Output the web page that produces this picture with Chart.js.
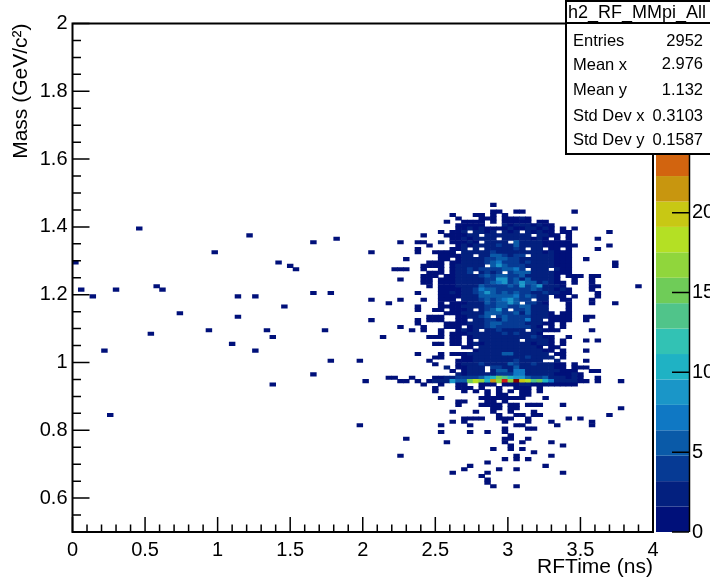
<!DOCTYPE html>
<html>
<head>
<meta charset="utf-8">
<title>h2_RF_MMpi_All</title>
<script src="https://cdn.jsdelivr.net/npm/chart.js@4"></script>
<style>
    html, body { margin: 0; padding: 0; background: #fff; }
    canvas { display: block; }
</style>
</head>
<body>
<canvas id="histChart" width="710" height="579"></canvas>
<script>
// Histogram binning
const rfBinWidth = 0.04;
const massBinWidth = 0.01;
const massAxisStart = 0.5;

// Dense part of the histogram, one entry per mass bin: first RF bin and the counts from there on
const rowMassBin = [96,95,94,93,92,91,90,89,88,87,86,85,84,83,82,81,80,79,78,77,76,75,74,73,72,71,70,69,68,67,66,65,64,63,62,61,60,59,58,57,56,55,54,53,52,51,50,49,48,47,46,45,44,43];
const rowFirstRfBin = [72,72,72,65,66,64,66,66,63,60,65,56,61,59,59,63,57,61,60,56,61,60,56,60,61,63,59,63,56,63,59,59,64,61,59,59,56,58,63,61,65,62,67,69,59,62,61,62,64,65,66,58,56,60];
const rowCounts = [
    [1],
    [],
    [1,1,0,0,1,1,0,0,0,0,0,0,0,0,1],
    [1,0,0,0,1,1,0,1,0,1],
    [1,0,0,0,1,1,1,0,1,1,1,2,1],
    [1,0,0,1,1,1,1,0,1,0,1,1,1,1,1,0,1,1],
    [1,1,1,1,1,0,0,0,2,1,2,2,2,1,2,1,1],
    [1,1,2,1,2,1,1,1,1,2,1,1,2,2,1,2,1,0,1,0,1],
    [1,0,1,1,2,0,2,2,1,2,0,2,1,2,0,2,1,2,1,1,0,1,1,0,0,0,0,0,0,1],
    [1,0,0,0,1,1,1,1,2,2,0,2,2,3,3,2,3,2,2,0,2,2,1,1,0,1],
    [1,1,2,1,2,2,2,3,0,2,3,3,2,2,1,2,1,0,1,0,1,0,0,0,0,1],
    [1,0,0,1,1,0,0,2,0,1,1,1,2,1,0,2,2,3,2,0,6,3,2,2,2,1,1,1,1,1],
    [1,0,0,0,0,1,2,1,2,2,3,2,4,3,2,5,3,2,2,3,1,1,1,1,1,1,0,0,0,0,0,1],
    [1,0,0,0,0,0,1,1,2,0,2,0,2,3,3,3,2,4,3,0,2,2,0,1,1,0,1,0,0,0,0,1],
    [1,0,0,1,1,1,1,0,2,2,2,3,2,4,3,3,3,3,2,2,2,2,1,2,1,1,1],
    [1,1,1,1,2,2,0,3,3,5,5,4,3,4,4,0,2,2,2,2,1,1,1],
    [1,0,0,0,0,0,1,1,0,1,2,2,2,3,4,4,5,5,4,4,3,3,2,2,2,3,1,1,1,0,0,1],
    [1,1,1,0,1,1,2,2,3,3,4,5,7,4,4,4,3,4,2,2,2,2,1,1,1,0,0,0,0,0,0,0,1],
    [1,1,1,1,0,1,2,2,2,3,3,0,5,8,5,4,4,4,3,3,2,2,2,1,1,1,0,0,0,0,0,0,0,1],
    [1,1,0,0,1,0,0,1,0,1,2,2,4,3,4,4,4,4,5,5,7,4,0,3,3,2,0,2,1,1],
    [1,1,1,0,1,2,2,4,0,3,4,3,4,0,4,5,5,5,3,2,2,2,1,1,1],
    [1,1,1,0,1,1,2,2,3,3,4,5,4,5,5,4,4,5,3,3,2,3,2,1,0,1,1,1,0,1,1],
    [1,0,0,0,1,1,0,1,1,1,2,2,3,2,3,4,4,8,8,4,5,3,5,3,3,3,2,1,0,0,1,0,0,1],
    [1,1,0,1,1,1,2,2,3,2,3,4,5,7,8,4,5,9,5,6,3,4,2,1,1,0,1,0,0,1],
    [1,0,1,1,1,2,2,3,2,5,4,4,4,4,5,4,9,4,6,8,3,2,2,1,0,0,0,0,1,1],
    [1,1,1,1,2,3,4,7,5,6,4,4,4,4,4,4,5,4,3,3,1,2,1,0,0,0,1],
    [1,0,0,0,1,1,2,1,2,3,4,5,8,5,4,5,4,5,4,4,3,3,4,2,2,1,1,0,0,0,0,1],
    [1,1,1,1,2,2,3,5,5,6,5,5,6,7,4,5,4,3,2,0,1,1,0,1,0,0,0,1],
    [1,0,0,0,1,0,0,1,1,1,0,2,2,3,4,5,4,5,7,9,5,4,4,0,3,2,0,0,1,1,0,0,0,1],
    [1,0,1,1,1,2,3,3,5,4,5,5,8,5,0,4,4,3,1,0,0,0,1,0,0,0,1,0,0,0,1],
    [1,0,0,0,1,1,1,1,2,3,2,3,4,4,5,5,4,4,5,5,3,3,2,0,0,0,1],
    [1,0,0,1,1,0,1,1,1,2,0,2,4,5,9,4,0,4,4,5,3,2,2,0,0,0,1],
    [1,1,1,2,2,2,3,5,5,5,4,4,5,3,5,3,2,2,1,0,1,1],
    [1,1,1,0,0,1,1,2,2,4,5,0,4,5,4,4,4,4,3,2,2,1,1,1,1,0,0,1,1],
    [1,0,1,1,1,0,0,1,1,0,2,2,4,4,3,5,4,4,4,7,2,2,0,1,1,1,1,0,0,1],
    [1,0,0,0,0,1,1,1,1,2,2,3,4,5,5,4,4,4,4,3,2,2,1,1,0,1],
    [1,0,0,0,1,0,0,0,1,1,1,0,1,2,2,4,5,4,4,4,4,4,4,3,1,0,1,0,1],
    [1,0,1,0,0,1,0,0,1,2,1,2,0,3,3,4,3,2,3,2,0,3,2,1,1,1,0,0,0,0,0,1],
    [1,0,1,1,1,2,2,2,3,3,3,4,3,4,3,3,3,1],
    [1,1,1,0,1,1,0,1,2,2,2,2,2,3,3,2,2,3,4,2,1,1,0,0,1],
    [1,1,0,1,0,2,2,3,2,3,3,2,0,3,2,2,3,1,0,1,0,0,0,1,0,1],
    [1,1,0,1,1,0,1,2,1,2,3,2,3,2,2,2,2,1,2,3,1,0,1],
    [1,1,0,2,2,2,2,3,3,2,3,2,2,1,0,1,1],
    [1,2,2,2,3,3,3,3,2,3,3,2,1,1,0,1,0,0,0,1],
    [1,0,0,0,1,0,1,1,1,2,2,3,2,3,3,6,6,3,3,3,3,2,2,0,1,1],
    [1,1,0,0,0,1,1,2,2,2,3,2,3,2,3,3,4,2,2,3,2,0,1],
    [1,0,0,0,0,1,1,1,2,2,3,3,3,3,2,4,2,3,3,2,0,0,2,0,0,0,0,1],
    [1,0,0,0,1,2,2,2,4,2,3,3,3,5,4,3,3,4,3,2,2,1,1,0,1],
    [2,0,1,1,2,2,2,0,4,4,3,3,6,3,3,3,2,3,2,1,1,0,1,1,1],
    [1,0,1,2,2,2,0,3,5,5,3,7,7,3,3,2,2,3,2,1,1,1,0,0,1,1],
    [2,1,2,2,3,2,3,4,4,4,7,7,3,3,3,2,2,1,1,1,2,1],
    [1,0,0,0,1,1,2,2,4,4,4,4,5,8,10,15,14,10,9,8,5,4,4,5,3,2,2,1,2,1,0,0,1],
    [1,1,0,1,0,1,2,2,3,9,5,6,15,18,17,11,22,17,29,16,31,20,18,13,15,11,7,3,3,2,2,1,1,0,1,0,0,0,1],
    [1,0,0,1,0,0,1,1,0,0,1,1,1,0,1,1,1,2,2,1,1,1,1,1,1,1,1]
];

// Scattered single entries, away from the dense part
const sparseRfBin = [11,30,24,0,35,37,38,1,7,14,15,3,28,31,36,18,28,23,33,13,34,27,5,31,34,6,41,45,51,55,41,44,51,54,51,43,53,44,49,41,54,55,50,49,97,
    62,66,67,68,70,73,76,77,78,80,62,67,69,71,73,75,77,78,80,71,73,74,77,78,63,70,71,72,73,74,75,76,77,81,66,67,71,72,74,66,70,71,72,73,75,76,78,79,80,84,72,73,75,76,94,
    65,69,72,75,79,73,76,77,79,80,92,67,68,69,70,73,74,75,78,85,87,65,67,74,78,82,89,63,68,76,77,83,89,74,78,79,63,68,71,74,75,57,74,75,78,64,74,77,82,75,84,72,75,77,79,56,76,82,74,76,78,71,68,81,67,73,76,65,71,84,70,71,71,72,76];
const sparseMassBin = [89,87,82,79,79,78,77,71,71,72,71,69,69,69,66,64,63,59,59,58,57,55,53,53,43,34,85,86,82,77,70,70,68,67,62,59,57,50,50,46,45,45,44,31,72,
    42,42,42,42,42,42,42,42,42,42,41,41,41,41,41,41,41,41,41,40,40,40,40,40,39,39,39,39,39,39,39,39,39,39,38,38,38,38,38,37,37,37,37,37,37,37,37,37,37,37,36,36,36,36,36,
    35,35,35,35,35,34,34,34,34,34,34,33,33,33,33,33,33,33,33,33,33,32,32,32,32,32,32,31,31,31,31,31,31,30,30,30,29,29,29,29,28,27,27,27,27,26,26,26,26,25,25,24,24,24,23,22,22,22,21,21,21,20,19,19,18,18,18,17,17,17,16,15,14,13,13];

// Palette, bottom to top of the colour bar
const paletteColors = ['#00107a','#03207f','#063a94','#0a5aa8','#0f78c4','#1a96c8','#1fb2c4','#32c2b4','#50c48a','#6fcc58','#90d63c','#b4e024','#c8c814','#c8960f','#d2640f','#d84a0c','#d83a0c','#d62c10','#c81c14','#800000'];

// Axis ticks
const rfTickValues = [0,0.5,1,1.5,2,2.5,3,3.5,4];
const massTickValues = [0.6,0.8,1,1.2,1.4,1.6,1.8,2];
const countTickValues = [0,5,10,15,20,25,30];
const countMax = 31.85;

// Stats box
const statsTitle = 'h2_RF_MMpi_All';
const statNames = ['Entries','Mean x','Mean y','Std Dev x','Std Dev y'];
const statValues = ['2952','2.976','1.132','0.3103','0.1587'];

function colorForCount(count) {
    return paletteColors[Math.min(paletteColors.length - 1, Math.floor(count / (countMax / paletteColors.length)))];
}

function makeCell(rfBin, massBin, count) {
    return {
        x: (rfBin + 0.5) * rfBinWidth,
        y: [massAxisStart + massBin * massBinWidth, massAxisStart + (massBin + 1) * massBinWidth],
        count
    };
}

function buildCells() {
    const cells = [];
    rowCounts.forEach((counts, r) => {
        counts.forEach((count, c) => {
            if (count > 0) {
                cells.push(makeCell(rowFirstRfBin[r] + c, rowMassBin[r], count));
            }
        });
    });
    sparseRfBin.forEach((rfBin, n) => cells.push(makeCell(rfBin, sparseMassBin[n], 1)));
    return cells;
}

// Ticks point inward from the frame, which the scales can't do themselves
const framePlugin = {
    id: 'frame',
    afterDatasetsDraw(chart) {
        const { ctx, chartArea: area, scales } = chart;
        const { x, y, z } = scales;
        ctx.save();

        // colour bar
        const barLeft = z.left + 3;
        const barRight = z.left + 36;
        const bandSize = countMax / paletteColors.length;
        paletteColors.forEach((color, n) => {
            const yTop = z.getPixelForValue((n + 1) * bandSize);
            const yBottom = z.getPixelForValue(n * bandSize);
            ctx.fillStyle = color;
            ctx.fillRect(barLeft, yTop, barRight - barLeft, yBottom - yTop);
        });

        ctx.strokeStyle = '#000';
        ctx.lineWidth = 1.5;
        ctx.beginPath();
        countTickValues.forEach(v => {
            const py = z.getPixelForValue(v);
            ctx.moveTo(barRight, py);
            ctx.lineTo(barRight - 17, py);
        });
        ctx.moveTo(barRight + 0.5, area.top);
        ctx.lineTo(barRight + 0.5, area.bottom);
        ctx.stroke();

        ctx.beginPath();
        for (let n = 0; n <= 40; n++) {
            const px = x.getPixelForValue(n * 0.1);
            ctx.moveTo(px, area.bottom);
            ctx.lineTo(px, area.bottom - (n % 5 === 0 ? 15 : 7.5));
        }
        for (let n = 0; n <= 30; n++) {
            const py = y.getPixelForValue(0.5 + n * 0.05);
            ctx.moveTo(area.left, py);
            ctx.lineTo(area.left + ((n + 2) % 4 === 0 ? 17 : 8.5), py);
        }
        ctx.stroke();

        ctx.lineWidth = 2;
        ctx.strokeRect(area.left, area.top, area.right - area.left, area.bottom - area.top);
        ctx.restore();
    },
    afterDraw(chart) {
        const { ctx } = chart;
        ctx.save();
        ctx.fillStyle = '#fff';
        ctx.fillRect(566, 1, 144, 153);
        ctx.strokeStyle = '#000';
        ctx.lineWidth = 2;
        ctx.strokeRect(566, 1, 150, 153);
        ctx.beginPath();
        ctx.moveTo(566, 23);
        ctx.lineTo(710, 23);
        ctx.stroke();

        ctx.fillStyle = '#000';
        ctx.textBaseline = 'middle';
        ctx.textAlign = 'left';
        ctx.font = '18px "Liberation Sans"';
        ctx.fillText(statsTitle, 568, 13);

        const rowY = [41, 65, 90, 116, 140];
        ctx.font = '16.5px "Liberation Sans"';
        statNames.forEach((name, n) => {
            ctx.textAlign = 'left';
            ctx.fillText(name, 573, rowY[n]);
            ctx.textAlign = 'right';
            ctx.fillText(statValues[n], 703, rowY[n] - (n === 1 ? 1 : 0));
        });
        ctx.restore();
    }
};

const tickFont = { family: '"Liberation Sans"', size: 20 };
const titleFont = { family: '"Liberation Sans"', size: 21 };

new Chart(document.getElementById('histChart').getContext('2d'), {
    type: 'bar',
    data: {
        datasets: [{
            data: buildCells(),
            backgroundColor: ctx => ctx.raw ? colorForCount(ctx.raw.count) : '#000',
            barThickness: 5.8,
            grouped: false,
            inflateAmount: 0.33,
            borderWidth: 0
        }]
    },
    plugins: [framePlugin],
    options: {
        responsive: false,
        animation: false,
        events: [],
        layout: { padding: { top: 23.5 } },
        plugins: {
            legend: { display: false },
            tooltip: { enabled: false },
            title: { display: false }
        },
        scales: {
            x: {
                type: 'linear',
                offset: false,
                min: 0,
                max: 4,
                grid: { display: false, drawTicks: false },
                border: { display: false },
                afterBuildTicks: scale => { scale.ticks = rfTickValues.map(value => ({ value })); },
                afterFit: scale => { scale.height = 47; },
                ticks: {
                    autoSkip: false,
                    maxRotation: 0,
                    padding: 6,
                    color: '#000',
                    font: tickFont,
                    callback: value => String(value)
                },
                title: {
                    display: true,
                    text: 'RFTime (ns)',
                    align: 'end',
                    color: '#000',
                    font: titleFont,
                    padding: { top: 0, bottom: -1 }
                }
            },
            y: {
                type: 'linear',
                min: 0.5,
                max: 2,
                grid: { display: false, drawTicks: false },
                border: { display: false },
                afterBuildTicks: scale => { scale.ticks = massTickValues.map(value => ({ value })); },
                afterFit: scale => { scale.width = 72.5; },
                ticks: {
                    autoSkip: false,
                    padding: 5,
                    color: '#000',
                    font: tickFont,
                    callback: value => String(value)
                },
                title: {
                    display: true,
                    text: 'Mass (GeV/c²)',
                    align: 'end',
                    color: '#000',
                    font: titleFont,
                    padding: { top: 9, bottom: 0 }
                }
            },
            z: {
                type: 'linear',
                position: 'right',
                min: 0,
                max: countMax,
                // the long transparent tick mark pushes the labels to the right of the colour bar
                grid: { display: true, drawOnChartArea: false, drawTicks: true, tickLength: 39, color: 'rgba(0,0,0,0)' },
                border: { display: false },
                afterBuildTicks: scale => { scale.ticks = countTickValues.map(value => ({ value })); },
                afterFit: scale => { scale.width = 57; },
                ticks: {
                    autoSkip: false,
                    padding: 0,
                    color: '#000',
                    font: tickFont,
                    callback: value => String(value)
                }
            }
        }
    }
});
</script>
</body>
</html>
